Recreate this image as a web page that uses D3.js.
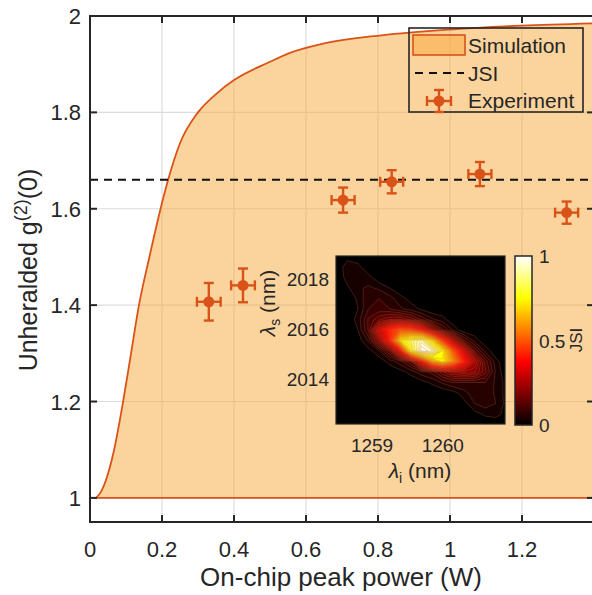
<!DOCTYPE html>
<html>
<head>
<meta charset="utf-8">
<script src="https://d3js.org/d3.v7.min.js"></script>
<style>
  body { margin: 0; background: #fff; }
  text { font-family: "Liberation Sans", Arial, Helvetica, sans-serif; fill: #262626; }
</style>
</head>
<body>
<svg id="chart" width="592" height="595"></svg>
<script>
// experiment
var powerW = [0.33, 0.425, 0.703, 0.838, 1.083, 1.324];
var g2 = [1.407, 1.441, 1.618, 1.656, 1.672, 1.592];
var g2Err = [0.039, 0.035, 0.026, 0.024, 0.025, 0.023];
var powerErr = [0.033, 0.033, 0.032, 0.032, 0.032, 0.032];

// JSI level
var jsiG2 = 1.66;

// simulation curve
var simPower = [0.017, 0.03, 0.04, 0.05, 0.067, 0.092, 0.114, 0.136, 0.165, 0.195, 0.217, 0.25, 0.30, 0.35, 0.40, 0.50, 0.55, 0.65, 0.81, 1.0, 1.2, 1.4];
var simG2 = [1.0, 1.012, 1.028, 1.05, 1.10, 1.20, 1.30, 1.40, 1.50, 1.597, 1.66, 1.736, 1.80, 1.838, 1.867, 1.905, 1.922, 1.943, 1.96, 1.972, 1.98, 1.985];

var xTicks = [0, 0.2, 0.4, 0.6, 0.8, 1, 1.2];
var yTicks = [1, 1.2, 1.4, 1.6, 1.8, 2];

// inset: joint spectral intensity
var lamI = [1258.5, 1258.65, 1258.8, 1258.95, 1259.1, 1259.25, 1259.4, 1259.55, 1259.7, 1259.85, 1260.0, 1260.15, 1260.3, 1260.45, 1260.6, 1260.75, 1260.9];
var lamS = [2018.9, 2018.48, 2018.06, 2017.64, 2017.22, 2016.8, 2016.38, 2015.96, 2015.54, 2015.12, 2014.7, 2014.28, 2013.86, 2013.44, 2013.02, 2012.6, 2012.18];
var jsi = [
  [0, 0.01, 0, 0, 0, 0, 0, 0, 0, 0, 0, 0, 0, 0, 0, 0, 0],
  [0, 0.035, 0.03, 0, 0, 0, 0, 0, 0, 0, 0, 0, 0, 0, 0, 0, 0],
  [0, 0.03, 0.045, 0.03, 0, 0, 0, 0, 0, 0, 0, 0, 0, 0, 0, 0, 0],
  [0, 0.015, 0.04, 0.05, 0.04, 0.02, 0, 0, 0, 0, 0, 0, 0, 0, 0, 0, 0],
  [0, 0, 0.025, 0.065, 0.07, 0.055, 0.03, 0.01, 0, 0, 0, 0, 0, 0, 0, 0, 0],
  [0, 0, 0.02, 0.07, 0.08, 0.07, 0.05, 0.035, 0.015, 0, 0, 0, 0, 0, 0, 0, 0],
  [0, 0, 0.03, 0.1, 0.14, 0.17, 0.17, 0.14, 0.09, 0.05, 0.03, 0, 0, 0, 0, 0, 0],
  [0, 0, 0.02, 0.1, 0.3, 0.42, 0.5, 0.48, 0.38, 0.22, 0.1, 0.04, 0, 0, 0, 0, 0],
  [0, 0, 0.005, 0.05, 0.2, 0.4, 0.72, 0.85, 0.93, 0.72, 0.45, 0.25, 0.1, 0.035, 0, 0, 0],
  [0, 0, 0, 0.01, 0.04, 0.13, 0.35, 0.78, 1.0, 0.95, 0.76, 0.5, 0.3, 0.12, 0.04, 0, 0],
  [0, 0, 0, 0, 0.005, 0.03, 0.06, 0.12, 0.35, 0.62, 0.74, 0.58, 0.4, 0.25, 0.11, 0.03, 0],
  [0, 0, 0, 0, 0, 0, 0.01, 0.03, 0.06, 0.08, 0.14, 0.2, 0.22, 0.2, 0.13, 0.04, 0],
  [0, 0, 0, 0, 0, 0, 0, 0, 0.01, 0.025, 0.05, 0.07, 0.07, 0.07, 0.07, 0.04, 0.01],
  [0, 0, 0, 0, 0, 0, 0, 0, 0, 0, 0, 0.01, 0.035, 0.06, 0.065, 0.04, 0.01],
  [0, 0, 0, 0, 0, 0, 0, 0, 0, 0, 0, 0, 0.01, 0.045, 0.06, 0.045, 0.01],
  [0, 0, 0, 0, 0, 0, 0, 0, 0, 0, 0, 0, 0, 0.01, 0.025, 0.03, 0.01],
  [0, 0, 0, 0, 0, 0, 0, 0, 0, 0, 0, 0, 0, 0, 0, 0, 0]
];
var inXTicks = [1259, 1260];
var inYTicks = [2014, 2016, 2018];
var cbTicks = [0, 0.5, 1];

var orange = "#D95319";
var fillCol = "rgba(247,167,59,0.5)";
var ink = "#262626";

var svg = d3.select("#chart");

var x = d3.scaleLinear().domain([0, 1.4]).range([90, 594]);
var y = d3.scaleLinear().domain([0.95, 2]).range([522, 16]);

var defs = svg.append("defs");
defs.append("clipPath").attr("id", "plotclip")
  .append("rect").attr("x", 90).attr("y", 16).attr("width", 504).attr("height", 506);

// grid
svg.append("g").selectAll("line").data(xTicks.slice(1)).enter().append("line")
  .attr("x1", d => x(d)).attr("x2", d => x(d)).attr("y1", 16).attr("y2", 522)
  .attr("stroke", "#dcdcdc").attr("stroke-width", 1.2);
svg.append("g").selectAll("line").data(yTicks).enter().append("line")
  .attr("x1", 90).attr("x2", 594).attr("y1", d => y(d)).attr("y2", d => y(d))
  .attr("stroke", "#dcdcdc").attr("stroke-width", 1.2);

var plot = svg.append("g").attr("clip-path", "url(#plotclip)");

// simulation patch
var simData = simPower.map((p, i) => [p, simG2[i]]);
var area = d3.area().x(d => x(d[0])).y0(y(1)).y1(d => y(d[1])).curve(d3.curveMonotoneX);
plot.append("path").datum(simData).attr("d", area)
  .attr("fill", fillCol).attr("stroke", orange).attr("stroke-width", 1.8);

// JSI dashed line
plot.append("line").attr("x1", x(0)).attr("x2", x(1.4))
  .attr("y1", y(jsiG2)).attr("y2", y(jsiG2))
  .attr("stroke", "#111").attr("stroke-width", 2).attr("stroke-dasharray", "8,6");

// experiment error bars
function errMark(g, cx, cy, ex, ey) {
  var cap = 5;
  g.append("line").attr("x1", cx).attr("x2", cx).attr("y1", cy - ey).attr("y2", cy + ey);
  g.append("line").attr("x1", cx - cap).attr("x2", cx + cap).attr("y1", cy - ey).attr("y2", cy - ey);
  g.append("line").attr("x1", cx - cap).attr("x2", cx + cap).attr("y1", cy + ey).attr("y2", cy + ey);
  g.append("line").attr("x1", cx - ex).attr("x2", cx + ex).attr("y1", cy).attr("y2", cy);
  g.append("line").attr("x1", cx - ex).attr("x2", cx - ex).attr("y1", cy - cap).attr("y2", cy + cap);
  g.append("line").attr("x1", cx + ex).attr("x2", cx + ex).attr("y1", cy - cap).attr("y2", cy + cap);
  g.append("circle").attr("cx", cx).attr("cy", cy).attr("r", 5.5).attr("fill", orange).attr("stroke", "none");
}
var pts = plot.append("g").attr("stroke", orange).attr("stroke-width", 2.4);
powerW.forEach(function(p, i) {
  var cx = x(p), cy = y(g2[i]);
  errMark(pts, cx, cy, x(p + powerErr[i]) - cx, cy - y(g2[i] + g2Err[i]));
});

// axes box and ticks
svg.append("rect").attr("x", 90).attr("y", 16).attr("width", 504).attr("height", 506)
  .attr("fill", "none").attr("stroke", ink).attr("stroke-width", 2);
var tk = svg.append("g").attr("stroke", ink).attr("stroke-width", 2);
xTicks.forEach(function(t) {
  tk.append("line").attr("x1", x(t)).attr("x2", x(t)).attr("y1", 522).attr("y2", 515);
  tk.append("line").attr("x1", x(t)).attr("x2", x(t)).attr("y1", 16).attr("y2", 23);
});
yTicks.forEach(function(t) {
  tk.append("line").attr("x1", 90).attr("x2", 97).attr("y1", y(t)).attr("y2", y(t));
  tk.append("line").attr("x1", 594).attr("x2", 587).attr("y1", y(t)).attr("y2", y(t));
});

svg.append("g").selectAll("text").data(xTicks).enter().append("text")
  .attr("x", d => x(d)).attr("y", 557).attr("text-anchor", "middle")
  .attr("font-size", 22).text(d => d3.format("~g")(d));
svg.append("g").selectAll("text").data(yTicks).enter().append("text")
  .attr("x", 81).attr("y", d => y(d) + 8).attr("text-anchor", "end")
  .attr("font-size", 22).text(d => d3.format("~g")(d));

svg.append("text").attr("x", 341).attr("y", 586).attr("text-anchor", "middle")
  .attr("font-size", 26).text("On-chip peak power (W)");

var yl = svg.append("text").attr("transform", "translate(37,270) rotate(-90)")
  .attr("text-anchor", "middle").attr("font-size", 25);
yl.append("tspan").text("Unheralded g");
yl.append("tspan").attr("dy", -10).attr("font-size", 18).text("(2)");
yl.append("tspan").attr("dy", 10).text("(0)");

// ---- inset ----
var xIn = d3.scaleLinear().domain([1258.49, 1260.88]).range([336, 505]);
var yIn = d3.scaleLinear().domain([2012.2, 2018.92]).range([424, 256]);
var hot = d3.scaleLinear().domain([0, 0.375, 0.75, 1])
  .range(["#000000", "#ff0000", "#ffff00", "#ffffff"]).clamp(true);

defs.append("clipPath").attr("id", "inclip")
  .append("rect").attr("x", 336).attr("y", 256).attr("width", 169).attr("height", 168);

svg.append("rect").attr("x", 336).attr("y", 256).attr("width", 169).attr("height", 168).attr("fill", "#000");

var nI = lamI.length, nS = lamS.length;
var gx = d3.scaleLinear().domain([0.5, nI - 0.5]).range([xIn(lamI[0]), xIn(lamI[nI - 1])]);
var gy = d3.scaleLinear().domain([0.5, nS - 0.5]).range([yIn(lamS[0]), yIn(lamS[nS - 1])]);
var thresholds = d3.range(0.02, 1.0, 0.025);
var cont = d3.contours().size([nI, nS]).thresholds(thresholds)(jsi.flat());
var proj = d3.geoTransform({ point: function(px, py) { this.stream.point(gx(px), gy(py)); } });
var cpath = d3.geoPath(proj);
svg.append("g").attr("clip-path", "url(#inclip)").selectAll("path").data(cont).enter().append("path")
  .attr("d", cpath)
  .attr("fill", d => hot(d.value + 0.0125))
  .attr("stroke", "rgba(190,110,60,0.55)").attr("stroke-width", 0.5);

svg.append("rect").attr("x", 336).attr("y", 256).attr("width", 169).attr("height", 168)
  .attr("fill", "none").attr("stroke", ink).attr("stroke-width", 1.2);

svg.append("g").selectAll("text").data(inXTicks).enter().append("text")
  .attr("x", d => xIn(d)).attr("y", 452).attr("text-anchor", "middle")
  .attr("font-size", 19).text(d => d);
svg.append("g").selectAll("text").data(inYTicks).enter().append("text")
  .attr("x", 329).attr("y", d => yIn(d) + 7).attr("text-anchor", "end")
  .attr("font-size", 19).text(d => d);

var xl = svg.append("text").attr("x", 420).attr("y", 478).attr("text-anchor", "middle").attr("font-size", 21);
xl.append("tspan").attr("font-style", "italic").text("\u03bb");
xl.append("tspan").attr("dy", 5).attr("font-size", 14).text("i");
xl.append("tspan").attr("dy", -5).text(" (nm)");

var sl = svg.append("text").attr("transform", "translate(275,303) rotate(-90)")
  .attr("text-anchor", "middle").attr("font-size", 21);
sl.append("tspan").attr("font-style", "italic").text("\u03bb");
sl.append("tspan").attr("dy", 5).attr("font-size", 14).text("s");
sl.append("tspan").attr("dy", -5).text(" (nm)");

// colorbar
var cb = d3.scaleLinear().domain([0, 1]).range([425, 256]);
var grad = defs.append("linearGradient").attr("id", "hotgrad")
  .attr("x1", 0).attr("y1", 1).attr("x2", 0).attr("y2", 0);
hot.domain().forEach(function(v) {
  grad.append("stop").attr("offset", v).attr("stop-color", hot(v));
});
svg.append("rect").attr("x", 515).attr("y", cb(1)).attr("width", 17).attr("height", cb(0) - cb(1))
  .attr("fill", "url(#hotgrad)").attr("stroke", ink).attr("stroke-width", 1.5);
svg.append("g").selectAll("text").data(cbTicks).enter().append("text")
  .attr("x", 539).attr("y", d => cb(d) + 7).attr("font-size", 19).text(d => d);
svg.append("text").attr("transform", "translate(582,340) rotate(-90)")
  .attr("text-anchor", "middle").attr("font-size", 17).text("JSI");

// ---- legend ----
var lg = svg.append("g");
lg.append("rect").attr("x", 409).attr("y", 28).attr("width", 174).attr("height", 84)
  .attr("fill", "none").attr("stroke", ink).attr("stroke-width", 1.6);
lg.append("rect").attr("x", 413).attr("y", 35).attr("width", 52).attr("height", 20)
  .attr("fill", fillCol).attr("stroke", orange).attr("stroke-width", 1.6);
lg.append("line").attr("x1", 415).attr("x2", 464).attr("y1", 73).attr("y2", 73)
  .attr("stroke", "#111").attr("stroke-width", 2).attr("stroke-dasharray", "8,6");
var lgPt = lg.append("g").attr("stroke", orange).attr("stroke-width", 2.4);
errMark(lgPt, 439, 101, 12, 11);
lg.selectAll("text.lab").data(["Simulation", "JSI", "Experiment"]).enter().append("text")
  .attr("class", "lab").attr("x", 468).attr("y", (d, i) => 53 + i * 27.5)
  .attr("font-size", 21).text(d => d);
</script>
</body>
</html>
